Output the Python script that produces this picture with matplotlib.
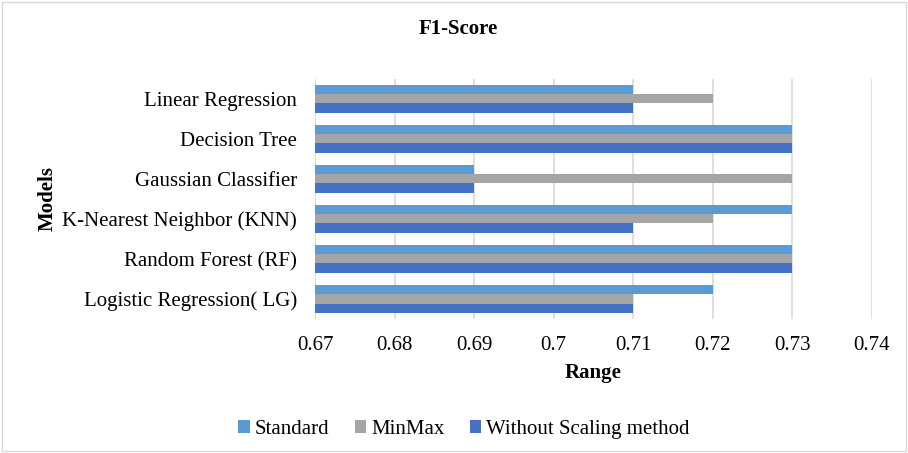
import numpy as np
import matplotlib.pyplot as plt
from matplotlib.patches import Rectangle

plt.rcParams['font.family'] = ['Liberation Serif', 'DejaVu Serif']

# Data (bottom to top)
models = ['Logistic Regression( LG)', 'Random Forest (RF)', 'K-Nearest Neighbor (KNN)',
          'Gaussian Classifier', 'Decision Tree', 'Linear Regression']
standard = [0.72, 0.73, 0.73, 0.69, 0.73, 0.71]
minmax = [0.71, 0.73, 0.72, 0.73, 0.73, 0.72]
without = [0.71, 0.73, 0.71, 0.69, 0.73, 0.71]
xticks = [0.67, 0.68, 0.69, 0.7, 0.71, 0.72, 0.73, 0.74]
xtick_labels = ['0.67', '0.68', '0.69', '0.7', '0.71', '0.72', '0.73', '0.74']

fig = plt.figure(figsize=(9.08, 4.53), dpi=100)
ax = fig.add_axes([0.347, 0.296, 0.613, 0.53])

y = np.arange(len(models))
h = 0.23
base = 0.67
ax.barh(y + h, np.array(standard) - base, h, left=base, color='#5B9BD5', label='Standard')
ax.barh(y, np.array(minmax) - base, h, left=base, color='#A5A5A5', label='MinMax')
ax.barh(y - h, np.array(without) - base, h, left=base, color='#4472C4', label='Without Scaling method')

ax.set_xlim(0.67, 0.74)
ax.set_ylim(-0.5, len(models) - 0.5)
ax.set_xticks(xticks)
ax.set_xticklabels(xtick_labels, fontsize=15)
ax.set_yticks(y)
ax.set_yticklabels(models, fontsize=15)
ax.tick_params(axis='y', length=0, pad=13)
ax.tick_params(axis='x', length=0, pad=12)
ax.xaxis.grid(True, color='#D9D9D9', linewidth=1.2)
ax.set_axisbelow(True)
for s in ax.spines.values():
    s.set_visible(False)

ax.set_xlabel('Range', fontsize=15, fontweight='bold', labelpad=6)
ax.set_ylabel('Models', fontsize=15, fontweight='bold')
ax.yaxis.set_label_coords(-0.463, 0.5)

fig.text(0.505, 0.936, 'F1-Score', ha='center', va='center', fontsize=15, fontweight='bold')

ax.legend(loc='center', bbox_to_anchor=((0.511 - 0.347) / 0.613, (0.052 - 0.296) / 0.53),
          ncol=3, frameon=False, fontsize=15, handlelength=0.55, handleheight=0.55,
          columnspacing=1.2, handletextpad=0.25)

fig.patches.append(Rectangle((0.002, 0.004), 0.996, 0.992, transform=fig.transFigure,
                             fill=False, edgecolor='#D9D9D9', linewidth=1))

fig.savefig('out.png', dpi=100)
